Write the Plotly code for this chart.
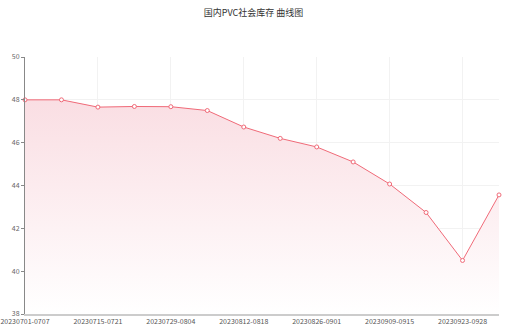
import plotly.graph_objects as go

weeks = ["20230701-0707", "20230708-0714", "20230715-0721", "20230722-0728",
         "20230729-0804", "20230805-0811", "20230812-0818", "20230819-0825",
         "20230826-0901", "20230902-0908", "20230909-0915", "20230916-0922",
         "20230923-0928", "20231007-1013"]
inventory = [48.0, 48.0, 47.66, 47.69, 47.68, 47.5, 46.73, 46.2, 45.8, 45.1,
             44.07, 42.74, 40.5, 43.56]
tick_labels = weeks[::2]
y_ticks = [38, 40, 42, 44, 46, 48, 50]

fig = go.Figure()
fig.add_trace(go.Scatter(
    x=weeks, y=inventory, mode="lines+markers",
    line=dict(color="#f06a78", width=1),
    marker=dict(symbol="circle", size=4, color="white",
                line=dict(color="#f06a78", width=1)),
    fill="tozeroy",
    fillgradient=dict(type="vertical", start=38, stop=48,
                      colorscale=[[0, "rgba(255,255,255,1)"], [1, "rgba(250,222,227,1)"]]),
    cliponaxis=False,
    showlegend=False,
))

fig.update_layout(
    width=507, height=330,
    margin=dict(l=25, r=8, t=57, b=16),
    paper_bgcolor="white", plot_bgcolor="white",
    title=dict(text="国内PVC社会库存 曲线图", x=0.5, xanchor="center", y=0.962, yanchor="middle",
               font=dict(family="Noto Sans CJK SC", size=9, color="#333")),
    font=dict(family="Noto Sans CJK SC", size=7, color="#666"),
)
fig.update_xaxes(
    type="category", range=[0, 13], tickmode="array", tickvals=tick_labels,
    ticktext=tick_labels, showgrid=True, gridcolor="#f2f2f2", gridwidth=1,
    showline=True, linecolor="#cccccc", linewidth=2, ticks="", zeroline=False,
    tickfont=dict(size=7, color="#555"), automargin=False,
)
fig.update_yaxes(
    range=[38, 50], tickvals=y_ticks, showgrid=True, gridcolor="#f2f2f2",
    showline=True, linecolor="#888", linewidth=1, ticks="outside", ticklen=3,
    tickcolor="#888", zeroline=False, tickfont=dict(size=7, color="#666"),
    automargin=False,
)

fig.write_html("out.html")
